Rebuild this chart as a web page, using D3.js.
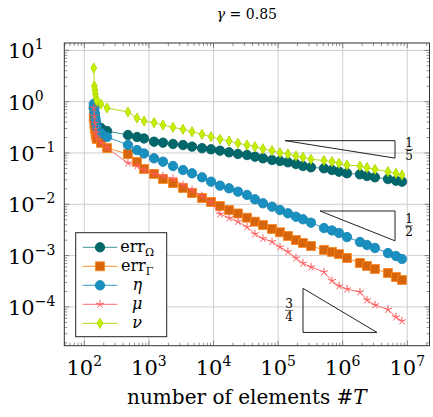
<!DOCTYPE html>
<html>
<head>
<meta charset="utf-8">
<script src="https://cdn.jsdelivr.net/npm/d3@7"></script>
<style>
  body { margin: 0; background: #fff; }
</style>
</head>
<body>
<div id="chart"></div>
<script>
// number of elements #T per refinement step
const elements = [140, 143, 146, 149, 152, 156, 181, 225, 474, 654, 840, 1200, 1650, 2360, 3370, 4650, 6640, 9150, 12600, 17400, 23900, 33000, 43800, 58300, 80500, 107000, 142000, 189000, 243000, 323000, 513000, 682000, 877000, 1165000, 1850000, 2380000, 3160000, 5020000, 6680000, 8280000];

const errOmega = [0.754, 0.602, 0.503, 0.420, 0.367, 0.336, 0.307, 0.268, 0.224, 0.205, 0.192, 0.166, 0.159, 0.150, 0.143, 0.133, 0.124, 0.118, 0.111, 0.103, 0.0956, 0.0914, 0.0847, 0.0788, 0.0730, 0.0698, 0.0659, 0.0610, 0.0558, 0.0526, 0.0503, 0.0466, 0.0432, 0.0402, 0.0384, 0.0356, 0.0336, 0.0311, 0.0288, 0.0276];
const errGamma = [0.481, 0.367, 0.294, 0.245, 0.214, 0.187, 0.157, 0.125, 0.0956, 0.0668, 0.0488, 0.0390, 0.0311, 0.0260, 0.0208, 0.0166, 0.0133, 0.0111, 0.00927, 0.00774, 0.00662, 0.00548, 0.00458, 0.00395, 0.00330, 0.00285, 0.00241, 0.00201, 0.00176, 0.00154, 0.00129, 0.00118, 0.00107, 0.000898, 0.000718, 0.000627, 0.000548, 0.000458, 0.000383, 0.000335];
const eta = [0.902, 0.721, 0.576, 0.460, 0.384, 0.321, 0.245, 0.205, 0.143, 0.114, 0.0978, 0.0788, 0.0677, 0.0558, 0.0466, 0.0402, 0.0336, 0.0276, 0.0231, 0.0205, 0.0176, 0.0152, 0.0125, 0.01046, 0.00898, 0.00774, 0.00668, 0.00573, 0.00510, 0.00438, 0.00345, 0.00309, 0.00276, 0.00230, 0.00184, 0.00161, 0.00141, 0.00112, 0.000982, 0.000859];
const mu = [0.754, 0.526, 0.384, 0.294, 0.245, 0.205, 0.157, 0.125, 0.0638, 0.0558, 0.0466, 0.0390, 0.0356, 0.0318, 0.0238, 0.0190, 0.0145, 0.0111, 0.00647, 0.00541, 0.00462, 0.00361, 0.00264, 0.00215, 0.00187, 0.00147, 0.00119, 0.000898, 0.000708, 0.000599, 0.000479, 0.000324, 0.000256, 0.000223, 0.000195, 0.000136, 0.000109, 0.0000890, 0.0000636, 0.0000531];
const nu = [4.54, 2.02, 1.69, 1.41, 1.18, 1.03, 0.902, 0.754, 0.630, 0.481, 0.420, 0.390, 0.351, 0.317, 0.290, 0.260, 0.231, 0.208, 0.185, 0.171, 0.155, 0.143, 0.133, 0.120, 0.111, 0.101, 0.0956, 0.0874, 0.0824, 0.0754, 0.0714, 0.0677, 0.0630, 0.0583, 0.0558, 0.0517, 0.0481, 0.0432, 0.0402, 0.0373];

const xTickExps = [2, 3, 4, 5, 6, 7];
const yTickExps = [1, 0, -1, -2, -3, -4];
const xDomain = [Math.pow(10, 1.69), Math.pow(10, 7.344)];
const yDomain = [Math.pow(10, 1.144), Math.pow(10, -4.756)];

// slope triangles: corner points in data units, and the rate shown next to them
const slopeTriangles = [
  { num: "1", den: "5", pts: [[1.28e5, 0.174], [6.46e6, 0.174], [6.46e6, 0.0795]], side: "right" },
  { num: "1", den: "2", pts: [[4.46e5, 0.0074], [6.46e6, 0.0074], [6.46e6, 0.00194]], side: "right" },
  { num: "3", den: "4", pts: [[2.43e5, 2.3e-4], [2.43e5, 3.18e-5], [3.4e6, 3.18e-5]], side: "left" },
];

const series = [
  { name: "err", sub: "Ω", values: errOmega, mark: "circle", fill: "#00676a", stroke: "#005a5e", line: "#1f8a8c" },
  { name: "err", sub: "Γ", values: errGamma, mark: "square", fill: "#d6650c", stroke: "#ff8419", line: "#ff8419" },
  { name: "η", values: eta, mark: "circle", fill: "#1a90c0", stroke: "#1684b0", line: "#1a90c0" },
  { name: "μ", values: mu, mark: "star", fill: "none", stroke: "#ff5a5a", line: "#ff5a5a" },
  { name: "ν", values: nu, mark: "diamond", fill: "#c6f000", stroke: "#a9d400", line: "#a9d400" },
];

const W = 433, H = 417;
const margin = { top: 43, right: 3.5, bottom: 71.3, left: 64.3 };
const width = W - margin.left - margin.right;
const height = H - margin.top - margin.bottom;
const serif = "'DejaVu Serif', serif";

const xScale = d3.scaleLog().domain(xDomain).range([0, width]);
const yScale = d3.scaleLog().domain(yDomain).range([0, height]);

const svg = d3.select("#chart").append("svg")
  .attr("width", W).attr("height", H)
  .attr("font-family", serif);
const g = svg.append("g")
  .attr("transform", `translate(${margin.left},${margin.top})`);

// grid
const xMajor = xTickExps.map((e) => Math.pow(10, e));
const yMajor = yTickExps.map((e) => Math.pow(10, e));
g.append("g").selectAll("line").data(xMajor).join("line")
  .attr("x1", (d) => xScale(d)).attr("x2", (d) => xScale(d))
  .attr("y1", 0).attr("y2", height)
  .attr("stroke", "#cfcfcf").attr("stroke-width", 1);
g.append("g").selectAll("line").data(yMajor).join("line")
  .attr("y1", (d) => yScale(d)).attr("y2", (d) => yScale(d))
  .attr("x1", 0).attr("x2", width)
  .attr("stroke", "#cfcfcf").attr("stroke-width", 1);

// minor ticks (inside the frame, all four sides)
const minorOf = (scale) => {
  const [a, b] = d3.extent(scale.domain());
  const out = [];
  for (let e = Math.floor(Math.log10(a)); e <= Math.ceil(Math.log10(b)); e++) {
    for (let k = 1; k <= 9; k++) {
      const v = k * Math.pow(10, e);
      if (v >= a && v <= b) out.push({ v, major: k === 1 });
    }
  }
  return out;
};
const tickG = g.append("g").attr("stroke", "#444").attr("stroke-width", 0.6);
minorOf(xScale).forEach((t) => {
  const len = t.major ? 5 : 3;
  const x = xScale(t.v);
  tickG.append("line").attr("x1", x).attr("x2", x).attr("y1", height).attr("y2", height - len);
  tickG.append("line").attr("x1", x).attr("x2", x).attr("y1", 0).attr("y2", len);
});
minorOf(yScale).forEach((t) => {
  const len = t.major ? 5 : 3;
  const y = yScale(t.v);
  tickG.append("line").attr("y1", y).attr("y2", y).attr("x1", 0).attr("x2", len);
  tickG.append("line").attr("y1", y).attr("y2", y).attr("x1", width).attr("x2", width - len);
});

// slope triangles
const triLine = d3.line().x((d) => xScale(d[0])).y((d) => yScale(d[1]));
slopeTriangles.forEach((t) => {
  g.append("path")
    .attr("d", triLine(t.pts) + "Z")
    .attr("fill", "none").attr("stroke", "#222").attr("stroke-width", 1);
  const xs = t.pts.map((p) => xScale(p[0]));
  const ys = t.pts.map((p) => yScale(p[1]));
  const cy = (d3.min(ys) + d3.max(ys)) / 2;
  const cx = t.side === "right" ? d3.max(xs) + 14 : d3.min(xs) - 14;
  const fg = g.append("g").attr("transform", `translate(${cx},${cy})`);
  fg.append("text").attr("text-anchor", "middle").attr("y", -2.5).style("font-size", "12px").text(t.num);
  fg.append("line").attr("x1", -4).attr("x2", 4).attr("stroke", "#000").attr("stroke-width", 0.6);
  fg.append("text").attr("text-anchor", "middle").attr("y", 10.5).style("font-size", "12px").text(t.den);
});

// marker paths
function markPath(type) {
  if (type === "circle") return d3.symbol(d3.symbolCircle, 70)();
  if (type === "square") return d3.symbol(d3.symbolSquare, 80)();
  if (type === "diamond") return d3.symbol(d3.symbolDiamond, 30)();
  // pgfplots-like star: five spokes
  const r = 4.2;
  let p = "";
  for (let i = 0; i < 5; i++) {
    const a = -Math.PI / 2 + (i * 2 * Math.PI) / 5;
    p += `M0,0L${(r * Math.cos(a)).toFixed(2)},${(r * Math.sin(a)).toFixed(2)}`;
  }
  return p;
}

const line = d3.line()
  .x((d) => xScale(d[0]))
  .y((d) => yScale(d[1]));

series.forEach((s) => {
  const pts = elements.map((n, i) => [n, s.values[i]]);
  const sg = g.append("g");
  sg.append("path")
    .attr("d", line(pts))
    .attr("fill", "none")
    .attr("stroke", s.line)
    .attr("stroke-width", 0.9);
  sg.selectAll("path.mark").data(pts).join("path")
    .attr("class", "mark")
    .attr("transform", (d) => `translate(${xScale(d[0])},${yScale(d[1])})`)
    .attr("d", markPath(s.mark))
    .attr("fill", s.fill)
    .attr("stroke", s.stroke)
    .attr("stroke-width", s.mark === "star" ? 1 : 0.8);
});

// frame
g.append("rect")
  .attr("width", width).attr("height", height)
  .attr("fill", "none").attr("stroke", "#333").attr("stroke-width", 1);

// tick labels
xTickExps.forEach((e) => {
  const t = g.append("text")
    .attr("x", xScale(Math.pow(10, e)))
    .attr("y", height + 29)
    .attr("text-anchor", "middle")
    .style("font-size", "21px");
  t.append("tspan").text("10");
  t.append("tspan").attr("dy", -9).style("font-size", "14px").text(e);
});
yTickExps.forEach((e) => {
  const t = svg.append("text")
    .attr("x", 8)
    .attr("y", margin.top + yScale(Math.pow(10, e)) + 8)
    .style("font-size", "21px");
  t.append("tspan").text("10");
  t.append("tspan").attr("dy", -9).style("font-size", "14px").text(e < 0 ? "−" + -e : e);
});

// axis label
const xl = g.append("text")
  .attr("x", width / 2).attr("y", height + 58)
  .attr("text-anchor", "middle")
  .style("font-size", "20px");
xl.append("tspan").text("number of elements #");
xl.append("tspan").style("font-style", "italic").text("T");

// title
const tt = svg.append("text")
  .attr("x", margin.left + width / 2).attr("y", 19)
  .attr("text-anchor", "middle")
  .style("font-size", "14px");
tt.append("tspan").style("font-style", "italic").text("γ");
tt.append("tspan").text(" = 0.85");

// legend
const legend = g.append("g").attr("transform", `translate(${11.4},${189.7})`);
legend.append("rect")
  .attr("width", 91).attr("height", 104)
  .attr("fill", "#fff").attr("stroke", "#222").attr("stroke-width", 1);
series.forEach((s, i) => {
  const row = legend.append("g").attr("transform", `translate(0,${14.6 + i * 19})`);
  row.append("line").attr("x1", 7).attr("x2", 41.6)
    .attr("stroke", s.line).attr("stroke-width", 0.9);
  row.append("path").attr("transform", "translate(24.3,0)")
    .attr("d", markPath(s.mark))
    .attr("fill", s.fill).attr("stroke", s.stroke)
    .attr("stroke-width", s.mark === "star" ? 1 : 0.8);
  const t = row.append("text").attr("x", 61.5).attr("y", 5)
    .attr("text-anchor", "middle").style("font-size", "16px");
  if (s.sub) {
    t.append("tspan").text(s.name);
    t.append("tspan").attr("dy", 4).style("font-size", "11px").text(s.sub);
  } else {
    t.append("tspan").style("font-style", "italic").text(s.name);
  }
});
</script>
</body>
</html>
